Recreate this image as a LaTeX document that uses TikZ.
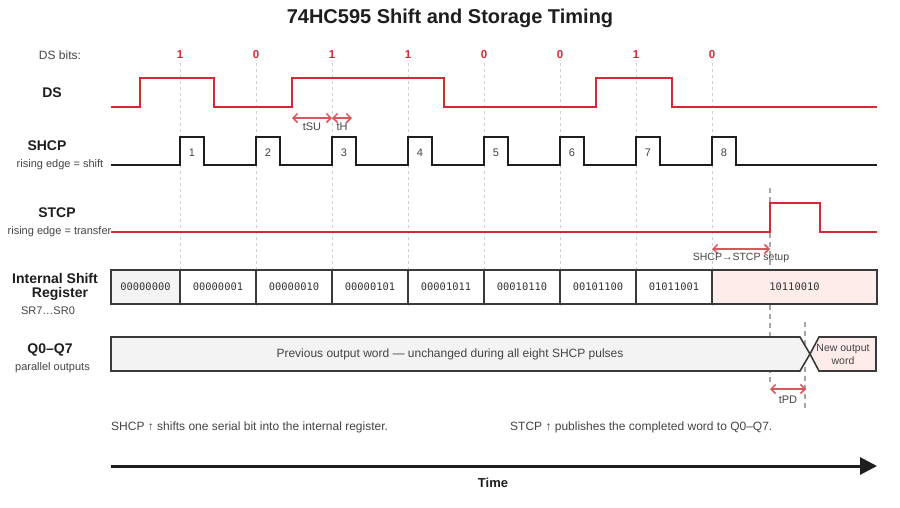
\documentclass[tikz,border=0pt]{standalone}
\usepackage{fontspec}
\setmainfont{Liberation Sans}
\setmonofont{DejaVu Sans Mono}
\usetikzlibrary{arrows.meta}
\definecolor{sigred}{HTML}{D42A33}
\definecolor{txtgray}{HTML}{444444}
\definecolor{gridgray}{HTML}{CFCFCF}
\definecolor{boxline}{HTML}{3A3A3A}
\definecolor{oldfill}{HTML}{F3F3F3}
\definecolor{newfill}{HTML}{FDECEA}
\definecolor{wblack}{HTML}{1E1E1E}
\tikzset{
  wave/.style={line width=2.7pt, line join=miter},
  redwave/.style={wave, draw=sigred},
  blkwave/.style={wave, draw=wblack},
  gridline/.style={draw=gridgray, dash pattern=on 3pt off 3pt, line width=1pt},
  marker/.style={draw=black!35, dash pattern=on 5pt off 4pt, line width=1.6pt},
  timing/.style={draw=sigred!80, line width=1.5pt, {Straight Barb[length=4.5pt,width=9pt]}-{Straight Barb[length=4.5pt,width=9pt]}},
  siglabel/.style={font=\fontsize{14}{16}\selectfont\bfseries, text=wblack, inner sep=0},
  sublabel/.style={font=\fontsize{11}{13}\selectfont, text=txtgray, inner sep=0},
  bitlabel/.style={font=\fontsize{11.5}{13}\selectfont\bfseries, text=sigred, inner sep=0},
  pulselabel/.style={font=\fontsize{11}{13}\selectfont, text=txtgray, inner sep=0},
  tlabel/.style={font=\fontsize{10.5}{12}\selectfont, text=txtgray, inner sep=0},
  cell/.style={draw=boxline, line width=1.6pt, minimum height=34pt, inner sep=0, font=\fontsize{10.4}{12}\selectfont\ttfamily, text=black!80},
  note/.style={font=\fontsize{12}{14}\selectfont, text=txtgray, inner sep=0, anchor=west},
}
\begin{document}
\begin{tikzpicture}[x=1pt,y=-1pt]
\useasboundingbox (0,0) rectangle (900,507);
\fill[white] (0,0) rectangle (900,507);

% title
\node[font=\fontsize{20}{24}\selectfont\bfseries, text=wblack, inner sep=0] (title) at (450,18) {74HC595 Shift and Storage Timing};

% grid lines and bit labels
\node[sublabel, font=\fontsize{12}{14}\selectfont] (dsbits) at (60,55) {DS bits:};
\foreach \b [count=\i from 0] in {1,0,1,1,0,0,1,0}{
  \pgfmathsetmacro{\xx}{180+76*\i}
  \draw[gridline] (\xx,63) -- (\xx,308);
  \node[bitlabel] (bit\i) at (\xx,55) {\b};
}

% markers (behind boxes)
\draw[marker] (770,188) -- (770,385);
\draw[marker] (805,322) -- (805,409);

% DS
\node[siglabel] (lds) at (52,93) {DS};
\draw[redwave] (111,107) -- (140,107) -- (140,78) -- (214,78) -- (214,107) -- (292,107) -- (292,78) -- (444,78) -- (444,107) -- (596,107) -- (596,78) -- (672,78) -- (672,107) -- (877,107);

% tSU / tH
\coordinate (su0) at (292,118);
\coordinate (su1) at (332,118);
\coordinate (h1) at (352,118);
\draw[timing] (su0) -- (su1);
\draw[timing] (su1) -- (h1);
\node[tlabel, font=\fontsize{11}{13}\selectfont] (ltsu) at (312,127) {tSU};
\node[tlabel, font=\fontsize{11}{13}\selectfont] (lth) at (342,127) {tH};

% SHCP
\node[siglabel] (lshcp) at (47,146) {SHCP};
\node[sublabel] (lshcps) at (60,165) {rising edge = shift};
\draw[blkwave] (111,165)
  \foreach \i in {0,...,7}{ -- ({180+76*\i},165) -- ({180+76*\i},137) -- ({204+76*\i},137) -- ({204+76*\i},165)}
  -- (877,165);
\foreach \i in {1,...,8}{
  \node[pulselabel] (p\i) at ({192+76*(\i-1)},153) {\i};
}

% STCP
\node[siglabel] (lstcp) at (57,213) {STCP};
\node[sublabel] (lstcps) at (59.5,232) {rising edge = transfer};
\draw[redwave] (111,232) -- (770,232) -- (770,203) -- (820,203) -- (820,232) -- (877,232);

% SHCP -> STCP setup
\coordinate (ss0) at (712,249);
\coordinate (ss1) at (770,249);
\draw[timing] (ss0) -- (ss1);
\node[tlabel] (lss) at (741,258) {SHCP→STCP setup};

% Internal shift register
\node[siglabel] (lreg1) at (55,278) {Internal Shift};
\node[siglabel] (lreg2) at (60,294) {Register};
\node[sublabel] (lreg3) at (48,311) {SR7…SR0};
\node[cell, fill=oldfill, minimum width=69pt] (c0) at (145.5,287) {00000000};
\node[cell, fill=white, minimum width=76pt] (c1) at (218,287) {00000001};
\node[cell, fill=white, minimum width=76pt] (c2) at (294,287) {00000010};
\node[cell, fill=white, minimum width=76pt] (c3) at (370,287) {00000101};
\node[cell, fill=white, minimum width=76pt] (c4) at (446,287) {00001011};
\node[cell, fill=white, minimum width=76pt] (c5) at (522,287) {00010110};
\node[cell, fill=white, minimum width=76pt] (c6) at (598,287) {00101100};
\node[cell, fill=white, minimum width=76pt] (c7) at (674,287) {01011001};
\node[cell, fill=newfill, minimum width=165pt] (c8) at (794.5,287) {10110010};

% Q0-Q7
\node[siglabel] (lq) at (50,350) {Q0–Q7};
\node[sublabel] (lqs) at (52.5,368) {parallel outputs};
\draw[draw=boxline, line width=1.6pt, fill=oldfill, line join=miter] (111,337) -- (800,337) -- (810,354) -- (800,371) -- (111,371) -- cycle;
\draw[draw=boxline, line width=1.6pt, fill=newfill, line join=miter] (810,354) -- (819,337) -- (876,337) -- (876,371) -- (819,371) -- cycle;
\node[font=\fontsize{12}{14}\selectfont, text=txtgray, inner sep=0] (qold) at (450,354) {Previous output word — unchanged during all eight SHCP pulses};
\node[font=\fontsize{10.5}{13}\selectfont, text=txtgray, inner sep=0, align=center] (qnew) at (843,354) {New output\\word};

% tPD
\coordinate (pd0) at (770,389);
\coordinate (pd1) at (806,389);
\draw[timing] (pd0) -- (pd1);
\node[tlabel, font=\fontsize{11}{13}\selectfont] (ltpd) at (788,400) {tPD};

% notes
\node[note] (n1) at (111,427) {SHCP ↑ shifts one serial bit into the internal register.};
\node[note] (n2) at (510,427) {STCP ↑ publishes the completed word to Q0–Q7.};

% time axis
\coordinate (t0) at (111,466);
\coordinate (t1) at (877,466);
\draw[draw=wblack, line width=3pt, -{Triangle[length=17pt,width=17pt]}] (t0) -- (t1);
\node[font=\fontsize{13}{15}\selectfont\bfseries, text=wblack, inner sep=0] (ltime) at (493,483) {Time};
\end{tikzpicture}
\end{document}
